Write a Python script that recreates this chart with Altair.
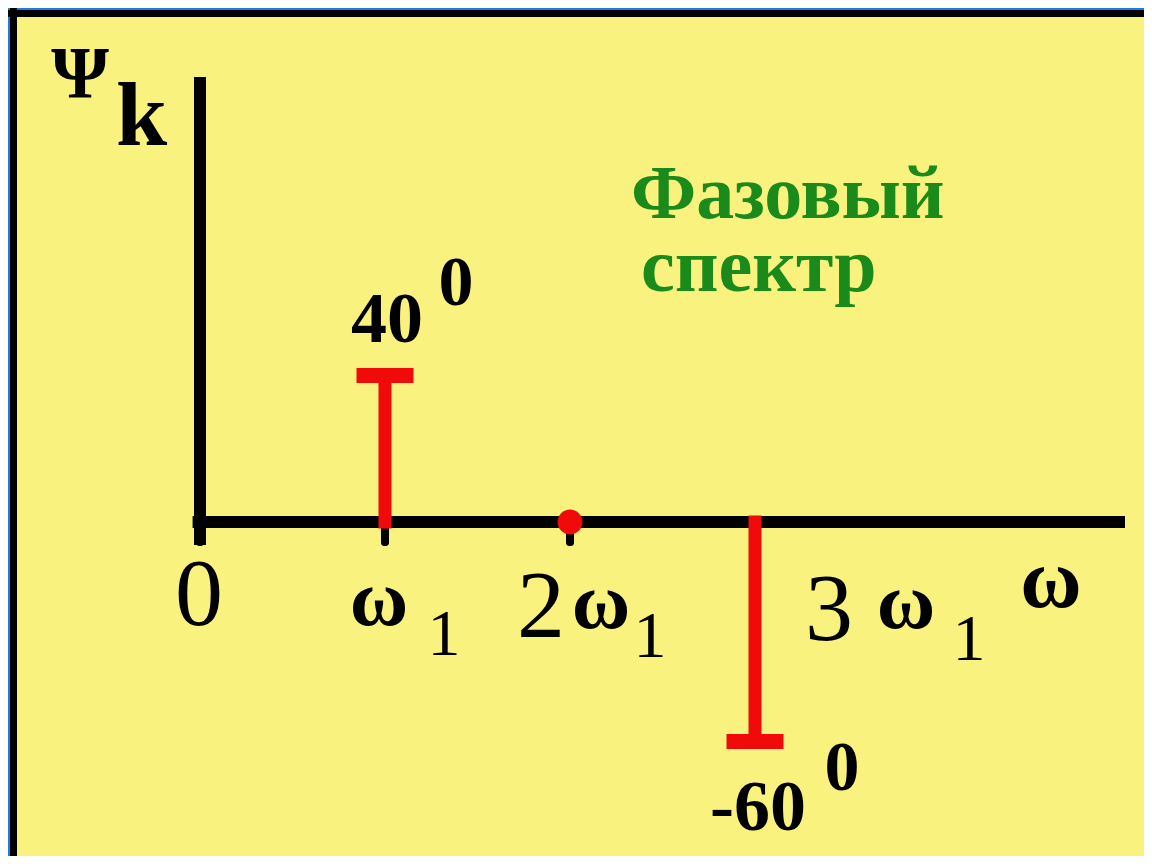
import altair as alt
import pandas as pd

# ---------------- data ----------------
harmonic = [1, 2, 3]            # k  (multiples of ω1)
phase_deg = [40, 0, -60]        # Ψk in degrees
phase_text = ["40", "", "-60"]
degree_mark = ["0", "", "0"]

tick_pos = [0, 1, 2, 3]
tick_coef = ["0", "", "2", "3"]
tick_sym = ["", "ω", "ω", "ω"]
tick_sub = ["", "1", "1", "1"]

title_lines = ["Фазовый", "спектр"]
y_label = ["Ψ", "k"]
x_label = ["ω"]

# ---------------- style / layout ----------------
YELLOW = "#FAF27E"
BLUE = "#1C7CE5"
RED = "#F00A0A"
GREEN = "#1A8A1A"
SERIF = "Liberation Serif"

PAD_L, PAD_T = 9, 9
PLOT_W, PLOT_H = 1127, 839
ORIGIN = 8 + PAD_L               # page pixel of plot-area origin
X0_PAGE, Y0_PAGE = 200, 522      # page pixel of the data origin
PX_X, PX_Y = 185.0, 3.66         # pixels per unit

xmin = -(X0_PAGE - ORIGIN) / PX_X
xmax = xmin + PLOT_W / PX_X
ymax = (Y0_PAGE - ORIGIN) / PX_Y
ymin = ymax - PLOT_H / PX_Y

xs = alt.Scale(domain=[xmin, xmax], nice=False, zero=False)
ys = alt.Scale(domain=[ymin, ymax], nice=False, zero=False)


def X(f):
    return alt.X(f, type="quantitative", scale=xs, axis=None)


def Y(f):
    return alt.Y(f, type="quantitative", scale=ys, axis=None)


spec = pd.DataFrame({"k": harmonic, "psi": phase_deg,
                     "label": phase_text, "deg": degree_mark,
                     "zero": [0] * len(harmonic)})
ticks = pd.DataFrame({"pos": tick_pos, "coef": tick_coef,
                      "sym": tick_sym, "sub": tick_sub,
                      "zero": [0] * len(tick_pos)})

layers = []

# frame: black line along the top and left edges of the yellow panel
fx = xmin - 3.5 / PX_X
fy = ymax + 3.5 / PX_Y
FRAME_V = pd.DataFrame({"x": [fx], "y": [ymin], "y2": [ymax + 9 / PX_Y]})
FRAME_H = pd.DataFrame({"x": [xmin - 9 / PX_X], "x2": [xmax], "y": [fy]})
layers.append(alt.Chart(FRAME_V).mark_rule(color="black", strokeWidth=7).encode(
    x=X("x"), y=Y("y"), y2="y2:Q"))
layers.append(alt.Chart(FRAME_H).mark_rule(color="black", strokeWidth=7).encode(
    x=X("x"), x2="x2:Q", y=Y("y")))

# axes
H_AX = pd.DataFrame({"x": [-0.04], "x2": [5.0], "y": [0]})
V_AX = pd.DataFrame({"x": [0], "y": [-6.3], "y2": [121.6]})
layers.append(alt.Chart(H_AX).mark_rule(color="black", strokeWidth=12).encode(
    x=X("x"), x2="x2:Q", y=Y("y")))
layers.append(alt.Chart(V_AX).mark_rule(color="black", strokeWidth=12).encode(
    x=X("x"), y=Y("y"), y2="y2:Q"))
layers.append(alt.Chart(ticks).mark_tick(
    orient="vertical", size=24, thickness=8, yOffset=12, color="black",
    opacity=1, cornerRadius=3).encode(
    x=X("pos"), y=Y("zero")))

# spectrum
base = alt.Chart(spec)
layers.append(base.mark_rule(color=RED, strokeWidth=13, strokeCap="square",
                             opacity=1).encode(
    x=X("k"), y=Y("psi"), y2="zero:Q").transform_filter("datum.psi != 0"))
layers.append(base.mark_tick(orient="horizontal", size=57, thickness=15,
                             color=RED, opacity=1).encode(
    x=X("k"), y=Y("psi")).transform_filter("datum.psi != 0"))
layers.append(base.mark_circle(size=620, color=RED, opacity=1).encode(
    x=X("k"), y=Y("psi")).transform_filter("datum.psi == 0"))

# tick labels (per-label offsets)
COEF_OFF = {0: (-1, 103), 2: (-29, 115), 3: (74, 118)}
SYM_OFF = {1: (-6, 103), 2: (31, 106), 3: (151, 106)}
SUB_OFF = {1: (59, 133), 2: (80, 135), 3: (214, 138)}
for i, p in enumerate(tick_pos):
    row = alt.Chart(ticks).transform_filter(f"datum.pos == {p}")
    if tick_coef[i]:
        dx, dy = COEF_OFF[i]
        layers.append(row.mark_text(font=SERIF, fontSize=96, color="black",
                                    align="center", baseline="alphabetic",
                                    dx=dx, dy=dy).encode(
            x=X("pos"), y=Y("zero"), text="coef:N"))
    if tick_sym[i]:
        dx, dy = SYM_OFF[i]
        layers.append(row.mark_text(font=SERIF, fontSize=80, fontWeight="bold",
                                    color="black", align="center",
                                    baseline="alphabetic", dx=dx, dy=dy).encode(
            x=X("pos"), y=Y("zero"), text="sym:N"))
    if tick_sub[i]:
        dx, dy = SUB_OFF[i]
        layers.append(row.mark_text(font=SERIF, fontSize=66, color="black",
                                    align="center", baseline="alphabetic",
                                    dx=dx, dy=dy).encode(
            x=X("pos"), y=Y("zero"), text="sub:N"))

# phase labels with degree marks
LAB_OFF = {1: (2, -34), 3: (3, 88)}
DEG_OFF = {1: (71, -71), 3: (87, 48)}
for i, k in enumerate(harmonic):
    if not phase_text[i]:
        continue
    row = base.transform_filter(f"datum.k == {k}")
    dx, dy = LAB_OFF[k]
    layers.append(row.mark_text(font=SERIF, fontSize=72, fontWeight="bold",
                                color="black", align="center",
                                baseline="alphabetic", dx=dx, dy=dy).encode(
        x=X("k"), y=Y("psi"), text="label:N"))
    dx, dy = DEG_OFF[k]
    layers.append(row.mark_text(font=SERIF, fontSize=70, fontWeight="bold",
                                color="black", align="center",
                                baseline="alphabetic", dx=dx, dy=dy).encode(
        x=X("k"), y=Y("psi"), text="deg:N"))

# title
layers.append(alt.Chart(pd.DataFrame({"t": [title_lines[0]]})).mark_text(
    font=SERIF, fontSize=76, fontWeight="bold", color=GREEN, align="left",
    baseline="alphabetic").encode(x=alt.value(614), y=alt.value(201), text="t:N"))
layers.append(alt.Chart(pd.DataFrame({"t": [title_lines[1]]})).mark_text(
    font=SERIF, fontSize=76, fontWeight="bold", color=GREEN, align="left",
    baseline="alphabetic").encode(x=alt.value(624), y=alt.value(274), text="t:N"))

# axis titles
layers.append(alt.Chart(pd.DataFrame({"t": [y_label[0]]})).mark_text(
    font=SERIF, fontSize=74, fontWeight="bold", color="black", align="center",
    baseline="alphabetic").encode(x=alt.value(63), y=alt.value(81), text="t:N"))
layers.append(alt.Chart(pd.DataFrame({"t": [y_label[1]]})).mark_text(
    font=SERIF, fontSize=92, fontWeight="bold", color="black", align="left",
    baseline="alphabetic").encode(x=alt.value(99), y=alt.value(128), text="t:N"))
layers.append(alt.Chart(pd.DataFrame({"t": x_label})).mark_text(
    font=SERIF, fontSize=84, fontWeight="bold", color="black", align="center",
    baseline="alphabetic").encode(x=alt.value(1034), y=alt.value(590), text="t:N"))

chart = alt.layer(*layers).properties(
    width=PLOT_W, height=PLOT_H,
    padding={"left": PAD_L, "top": PAD_T, "right": 0, "bottom": 0},
    autosize=alt.AutoSizeParams(type="none"),
    background=BLUE,
).configure_view(fill=YELLOW, strokeWidth=0)

chart.save("out.html", embed_options={"renderer": "svg", "actions": False})
